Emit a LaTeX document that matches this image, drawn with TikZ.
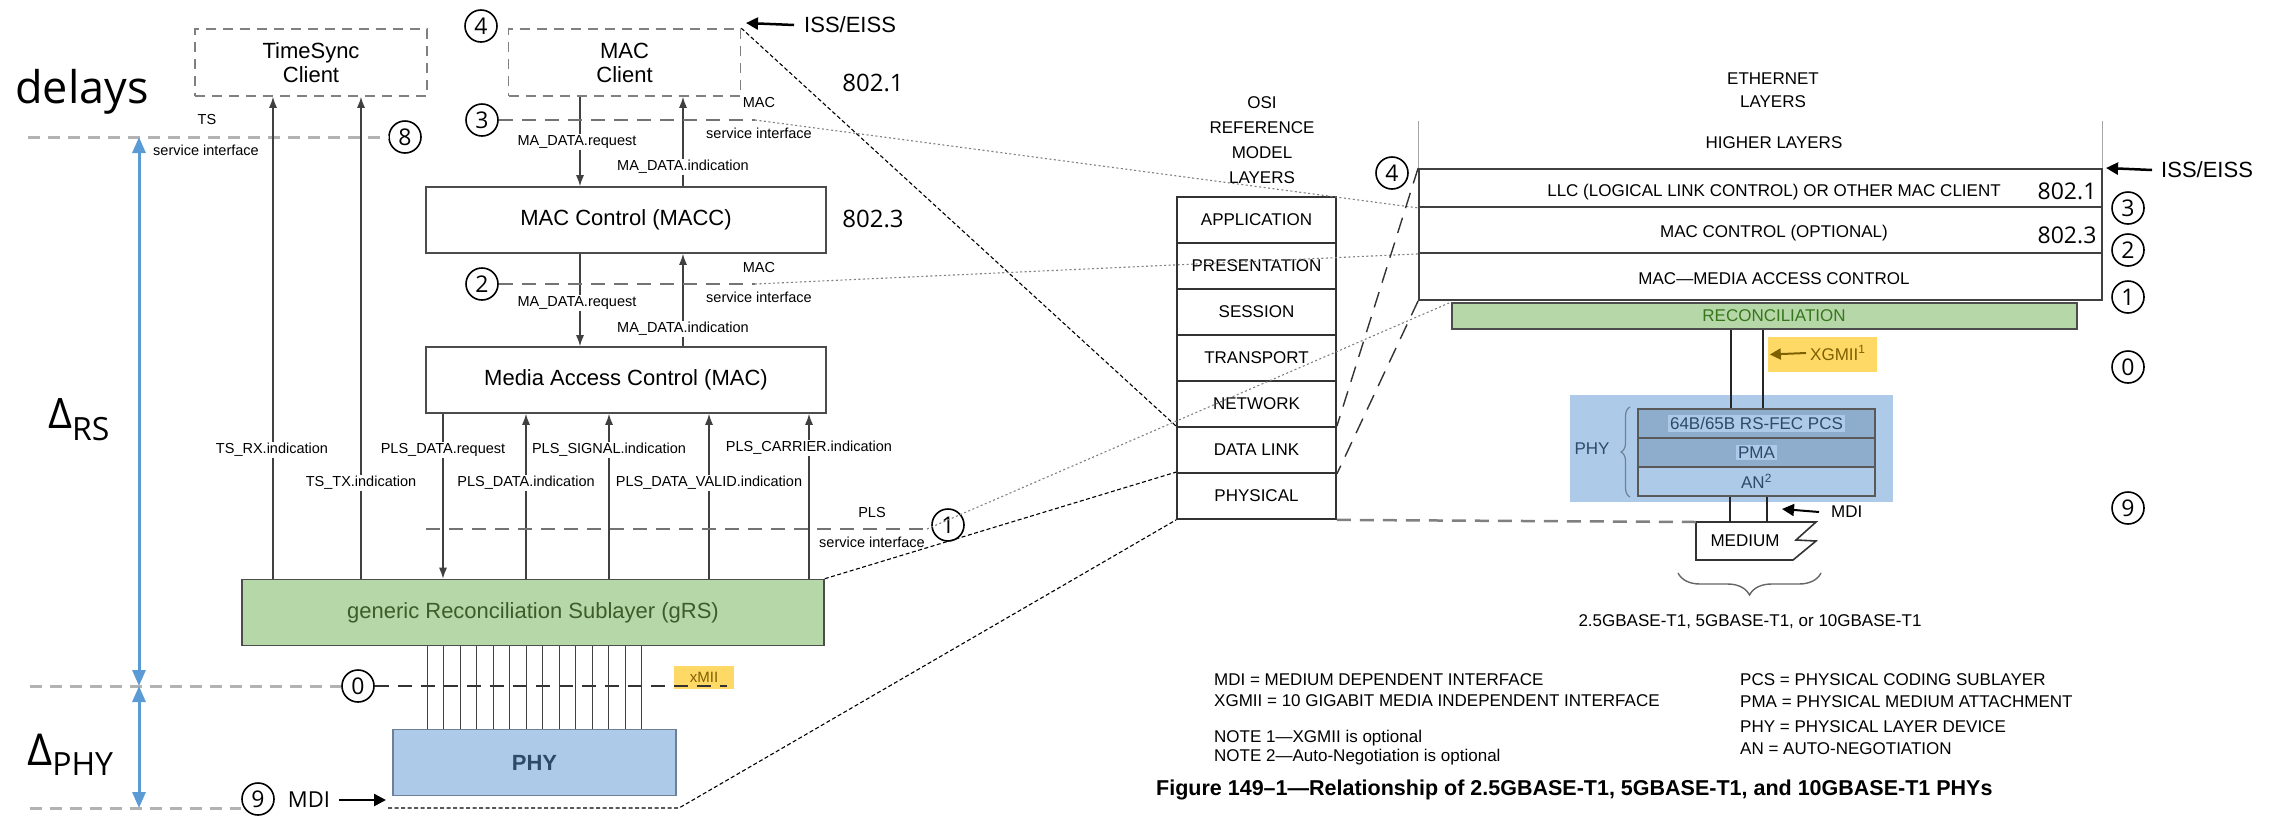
\documentclass[tikz,border=0pt]{standalone}
\usepackage{fontspec}
\setmainfont{Liberation Sans}
\newfontfamily\opensans{Open Sans}
\usetikzlibrary{arrows.meta,decorations.pathreplacing}

\definecolor{rsgreen}{HTML}{B6D7A8}
\definecolor{rsgreentxt}{HTML}{3E5C2B}
\definecolor{recontxt}{HTML}{38761D}
\definecolor{phyblue}{HTML}{ADCBE8}
\definecolor{phydark}{HTML}{8EADCC}
\definecolor{phytxt}{HTML}{2E4A6B}
\definecolor{xmiiyellow}{HTML}{FFD966}
\definecolor{xmiitxt}{HTML}{7F6000}
\definecolor{deltablue}{HTML}{5B9BD5}

\newcommand\fsig{\fontsize{14.5}{17}\selectfont}
\newcommand\fbig{\fontsize{22}{24}\selectfont}
\newcommand\fosi{\fontsize{17}{25}\selectfont}

\tikzstyle{client} = [draw=black!50, dash pattern=on 10pt off 7pt, line width=1.6, minimum width=232, minimum height=67, align=center, font=\fbig, inner sep=0]
\tikzstyle{block} = [draw=black!70, line width=1.6, minimum height=66, font=\fbig, inner sep=0]
\tikzstyle{num} = [circle, draw, line width=1.6, minimum size=32, inner sep=0, font=\opensans\fontsize{23}{23}\selectfont]
\tikzstyle{siglabel} = [fill=white, inner sep=1.5, font=\fsig]
\tikzstyle{sig} = [draw=black!75, line width=1.2]
\tikzstyle{sigarrow} = [sig, -{Latex[length=11pt,width=8pt]}]
\tikzstyle{bigarrow} = [line width=2.5, -{Triangle[length=12pt,width=12pt]}]
\tikzstyle{osirow} = [draw=black!80, line width=1.8, minimum width=159, minimum height=46, font=\fosi, inner sep=0]
\tikzstyle{ethrow} = [draw=black!75, line width=1.8, minimum width=683, inner sep=0]
\tikzstyle{ifline} = [black!55, line width=1.8, dash pattern=on 14pt off 9pt]
\tikzstyle{refline} = [black!30, line width=3, dash pattern=on 12pt off 8pt]
\tikzstyle{finedash} = [black, line width=1.1, dash pattern=on 4pt off 2.5pt]
\tikzstyle{dotline} = [black!50, line width=1.1, dash pattern=on 2pt off 2.5pt]
\tikzstyle{longdash} = [black!80, line width=1.4, dash pattern=on 16pt off 10pt]
\tikzstyle{delta} = [deltablue, line width=3, {Triangle[length=16pt,width=13pt]}-{Triangle[length=16pt,width=13pt]}]

\begin{document}
\begin{tikzpicture}[x=1pt,y=-1pt]
	\useasboundingbox (0,0) rectangle (2280,815);

	\node[client] (tsc) at (311,62.5) {TimeSync\\Client};
	\node[client] (mcl) at (624.5,62.5) {MAC\\Client};
	\node[block, minimum width=400] (macc) at (626,220) {MAC Control (MACC)};
	\node[block, minimum width=400] (mac) at (626,380) {Media Access Control (MAC)};
	\node[block, minimum width=582, fill=rsgreen, text=rsgreentxt] (grs) at (533,612.5) {generic Reconciliation Sublayer (gRS)};
	\node[block, minimum width=283, fill=phyblue, draw=phytxt!70, text=phytxt, font=\fbig\bfseries] (phy) at (534.5,762.5) {PHY};

	\node[anchor=base west, inner sep=0, font=\opensans\fontsize{45}{45}\selectfont] (delays) at (15,103) {delays};
	\node[anchor=base west, inner sep=0, font=\opensans\fontsize{42}{42}\selectfont] (drs) at (48,428) {Δ\raisebox{-12pt}{\fontsize{32}{32}\selectfont RS}};
	\node[anchor=base west, inner sep=0, font=\opensans\fontsize{44}{44}\selectfont] (dphy) at (27,765) {Δ\raisebox{-10pt}{\fontsize{32}{32}\selectfont PHY}};

	\node[num] (n8) at (405,137) {8};
	\draw[refline] (28,137) -- (n8.west);
	\node[num] (n0) at (358,686) {0};
	\draw[refline] (30,686) -- (n0.west);
	\node[fill=xmiiyellow, minimum width=60, minimum height=23, inner sep=0, text=xmiitxt, font=\fontsize{15}{15}\selectfont] (xmii) at (704,677) {xMII};
	\draw[ifline, black!80, line width=1.2] (n0.east) -- (727,686);
	\node[num] (n9) at (258,799) {9};
	\draw[refline] (30,808) -- (n9.west |- 0,808);
	\node[font=\opensans\fontsize{22}{22}\selectfont, inner sep=0] (mdil) at (309,800) {MDI};
	\coordinate (mditip) at (386,800);
	\draw[bigarrow] ([xshift=9pt]mdil.east) -- (mditip);
	\coordinate (mdibase) at (388,808);
	\coordinate (mdicorner) at (679,808);

	\coordinate (d8) at (139,137);
	\coordinate (d0) at (139,686);
	\coordinate (d9) at (139,808);
	\draw[delta] (d8) -- (d0);
	\draw[delta] (d0) -- (d9);
	\node[font=\fsig] (tslbl) at (207,120) {TS};
	\node[font=\fsig] (tssi) at (206,150) {service interface};

	\draw[sigarrow] (273,0 |- grs.north) -- (273,0 |- tsc.south);
	\draw[sigarrow] (361,0 |- grs.north) -- (361,0 |- tsc.south);
	\draw[sigarrow] (580,0 |- mcl.south) -- (580,0 |- macc.north);
	\draw[sigarrow] (683,0 |- macc.north) -- (683,0 |- mcl.south);
	\draw[sigarrow] (580,0 |- macc.south) -- (580,0 |- mac.north);
	\draw[sigarrow] (683,0 |- mac.north) -- (683,0 |- macc.south);
	\draw[sigarrow] (443,0 |- mac.south) -- (443,0 |- grs.north);
	\foreach \xx in {526,609,709,809}
		\draw[sigarrow] (\xx,0 |- grs.north) -- (\xx,0 |- mac.south);
	\foreach \i in {0,...,13}{
		\pgfmathsetmacro\xw{427+16.5*\i}
		\draw[sig, line width=1] (\xw,0 |- grs.south) -- (\xw,0 |- phy.north);
	}

	\node[siglabel] (maru) at (577,142) {MA\_DATA.request};
	\node[siglabel] (maiu) at (683,167) {MA\_DATA.indication};
	\node[siglabel] (mard) at (577,303) {MA\_DATA.request};
	\node[siglabel] (maid) at (683,329) {MA\_DATA.indication};
	\node[siglabel] (tsrx) at (272,450) {TS\_RX.indication};
	\node[siglabel] (tstx) at (361,483) {TS\_TX.indication};
	\node[siglabel] (plsdr) at (443,450) {PLS\_DATA.request};
	\node[siglabel] (plssi) at (609,450) {PLS\_SIGNAL.indication};
	\node[siglabel] (plsci) at (809,448) {PLS\_CARRIER.indication};
	\node[siglabel] (plsdi) at (526,483) {PLS\_DATA.indication};
	\node[siglabel] (plsvi) at (709,483) {PLS\_DATA\_VALID.indication};

	\node[num] (n4) at (481,26) {4};
	\node[anchor=west, inner sep=0, font=\fbig] (iss) at (804,25) {ISS/EISS};
	\coordinate (isstip) at (746,23);
	\draw[bigarrow] ([xshift=-10pt]iss.west) -- (isstip);
	\node[font=\opensans\fontsize{24}{24}\selectfont] (ieee1) at (873,83) {802.1};
	\node[font=\opensans\fontsize{24}{24}\selectfont] (ieee3) at (873,219) {802.3};

	\node[num] (n3) at (482,120) {3};
	\coordinate (s3) at (755,120);
	\draw[ifline] (n3.east) -- (s3);
	\node[font=\fsig] (mac3) at (759,103) {MAC};
	\node[font=\fsig] (si3) at (759,133) {service interface};
	\node[num] (n2) at (482,284) {2};
	\coordinate (s2) at (755,284);
	\draw[ifline] (n2.east) -- (s2);
	\node[font=\fsig] (mac2) at (759,267) {MAC};
	\node[font=\fsig] (si2) at (759,297) {service interface};
	\coordinate (plsl) at (426,529);
	\coordinate (plsr) at (927,529);
	\draw[ifline] (plsl) -- (plsr);
	\node[num] (n1) at (948,525) {1};
	\node[font=\fsig] (plslbl) at (872,512) {PLS};
	\node[font=\fsig] (plssi) at (872,542) {service interface};

	\node[font=\fosi, align=center] (osititle) at (1262,140) {OSI\\REFERENCE\\MODEL\\LAYERS};
	\foreach \name/\txt [count=\i from 0] in {app/APPLICATION,pres/PRESENTATION,sess/SESSION,trans/TRANSPORT,net/NETWORK,dlink/DATA LINK,phys/PHYSICAL}
		\node[osirow] (\name) at (1256.5,220+46*\i) {\txt};

	\node[font=\fontsize{17}{23}\selectfont, align=center] (ethtitle) at (1773,90.5) {ETHERNET\\LAYERS};
	\node[font=\fosi] (higher) at (1774,143) {HIGHER LAYERS};
	\node[ethrow, minimum height=38] (llc) at (1760.5,188) {};
	\node[ethrow, minimum height=46] (mcr) at (1760.5,230) {};
	\node[ethrow, minimum height=47] (macr) at (1760.5,276.5) {};
	\node[font=\fosi] (llctxt) at (1774,192) {LLC (LOGICAL LINK CONTROL) OR OTHER MAC CLIENT};
	\node[font=\fosi] (mcrtxt) at (1774,233) {MAC CONTROL (OPTIONAL)};
	\node[font=\fosi] (macrtxt) at (1774,279) {MAC—MEDIA ACCESS CONTROL};
	\draw[black!35, line width=1] (llc.north west) -- ++(0,-47);
	\draw[black!35, line width=1] (llc.north east) -- ++(0,-47);
	\node[draw=black!70, line width=1.8, fill=rsgreen, minimum width=625, minimum height=26, inner sep=0] (recon) at (1764.5,316) {};
	\node[font=\fosi, text=recontxt] (recontxt) at (1774,316) {RECONCILIATION};
	\node[font=\opensans\fontsize{23}{23}\selectfont] (ieee1r) at (2067,191) {802.1};
	\node[font=\opensans\fontsize{23}{23}\selectfont] (ieee3r) at (2067,235) {802.3};
	\node[num] (n4r) at (1392,173) {4};
	\node[num] (n3r) at (2128,208) {3};
	\node[num] (n2r) at (2128,250) {2};
	\node[num] (n1r) at (2128,297) {1};
	\node[num] (n0r) at (2128,367) {0};
	\node[num] (n9r) at (2128,508) {9};
	\node[anchor=west, inner sep=0, font=\fbig] (issr) at (2161,170) {ISS/EISS};
	\coordinate (isstipr) at (2106,168);
	\draw[bigarrow] ([xshift=-9pt]issr.west) -- (isstipr);

	\node[fill=xmiiyellow, minimum width=109, minimum height=35, inner sep=0] (xgmiibox) at (1822.5,354.5) {};
	\node[anchor=west, text=xmiitxt, font=\fosi, inner sep=0] (xgmii) at (1810,353) {XGMII\textsuperscript{1}};
	\draw[xmiitxt, line width=2, -{Triangle[length=11pt,width=11pt]}] ([xshift=-4pt]xgmii.west) -- ([xshift=2pt]xgmiibox.west);

	\node[fill=phyblue, minimum width=323, minimum height=107, inner sep=0] (phyarea) at (1731.5,448.5) {};
	\node[draw=black!65, line width=1.6, fill=phydark, minimum width=237, minimum height=29, inner sep=0] (pcs) at (1756.5,423.5) {};
	\node[draw=black!65, line width=1.6, fill=phydark, minimum width=237, minimum height=29, inner sep=0] (pma) at (1756.5,452.5) {};
	\node[draw=black!65, line width=1.6, minimum width=237, minimum height=29, inner sep=0] (an) at (1756.5,481.5) {};
	\node[fill=phyblue, text=phytxt, font=\fosi, inner sep=2] (pcstxt) at (pcs) {64B/65B RS-FEC PCS};
	\node[fill=phyblue, text=phytxt, font=\fosi, inner sep=2] (pmatxt) at (pma) {PMA};
	\node[text=phytxt, font=\fosi, inner sep=0] (antxt) at (an) {AN\textsuperscript{2}};
	\node[text=phytxt, font=\fosi] (phylbl) at (1592,449) {PHY};
	\draw[phytxt!70, line width=1.2, decorate, decoration={brace, amplitude=9pt}] (1630,497) -- (1630,407);
	\draw[sig, line width=1.6, black!85] (1731,0 |- recon.south) -- (1731,0 |- pcs.north);
	\draw[sig, line width=1.6, black!85] (1763,0 |- recon.south) -- (1763,0 |- pcs.north);

	\coordinate (medtl) at (1696,522);
	\coordinate (medtop) at (1748,522);
	\draw[line width=1.6, black!80] (medtl) -- (1816,522) -- (1796,540) -- (1816,541) -- (1793,560) -- (1696,560) -- cycle;
	\node[font=\fosi] (medium) at (1745,541) {MEDIUM};
	\draw[sig, line width=1.6, black!85] (1730,0 |- an.south) -- (1730,0 |- medtop);
	\draw[sig, line width=1.6, black!85] (1767,0 |- an.south) -- (1767,0 |- medtop);
	\node[anchor=west, inner sep=0, font=\fosi] (mdir) at (1831,512) {MDI};
	\coordinate (mditipr) at (1782,509);
	\draw[bigarrow, line width=2] ([xshift=-12pt]mdir.west) -- (mditipr);
	\draw[black!60, line width=1.4, decorate, decoration={brace, mirror, amplitude=22pt}] (1678,573) -- (1821,573);
	\node[font=\fosi] (variants) at (1750,622) {2.5GBASE-T1, 5GBASE-T1, or 10GBASE-T1};

	\draw[finedash] (mcl.north east) -- (dlink.north west);
	\draw[finedash] (grs.north east) -- (phys.north west);
	\draw[finedash] (mdibase) -- (mdicorner) -- (phys.south west);
	\draw[dotline] (s3) -- (llc.south west);
	\draw[dotline] (s2) -- (mcr.south west);
	\draw[dotline] (plsr) -- (recon.north west);
	\draw[longdash] (llc.north west) -- (dlink.north east);
	\draw[longdash] (macr.south west) -- (dlink.south east);
	\draw[ifline, black!50, line width=2.5] (phys.south east) -- (medtl);

	\node[anchor=west, font=\fosi, inner sep=0] (lmdi) at (1214,680) {MDI = MEDIUM DEPENDENT INTERFACE};
	\node[anchor=west, font=\fosi, inner sep=0] (lxgmii) at (1214,701) {XGMII = 10 GIGABIT MEDIA INDEPENDENT INTERFACE};
	\node[anchor=west, font=\fosi, inner sep=0] (lnote1) at (1214,738) {NOTE 1—XGMII is optional};
	\node[anchor=west, font=\fosi, inner sep=0] (lnote2) at (1214,757) {NOTE 2—Auto-Negotiation is optional};
	\node[anchor=west, font=\fosi, inner sep=0] (lpcs) at (1740,680) {PCS = PHYSICAL CODING SUBLAYER};
	\node[anchor=west, font=\fosi, inner sep=0] (lpma) at (1740,702) {PMA = PHYSICAL MEDIUM ATTACHMENT};
	\node[anchor=west, font=\fosi, inner sep=0] (lphy) at (1740,727) {PHY = PHYSICAL LAYER DEVICE};
	\node[anchor=west, font=\fosi, inner sep=0] (lan) at (1740,749) {AN = AUTO-NEGOTIATION};
	\node[anchor=west, font=\bfseries\fontsize{21.5}{22}\selectfont, inner sep=0] (caption) at (1156,790) {Figure 149–1—Relationship of 2.5GBASE-T1, 5GBASE-T1, and 10GBASE-T1 PHYs};
\end{tikzpicture}
\end{document}
